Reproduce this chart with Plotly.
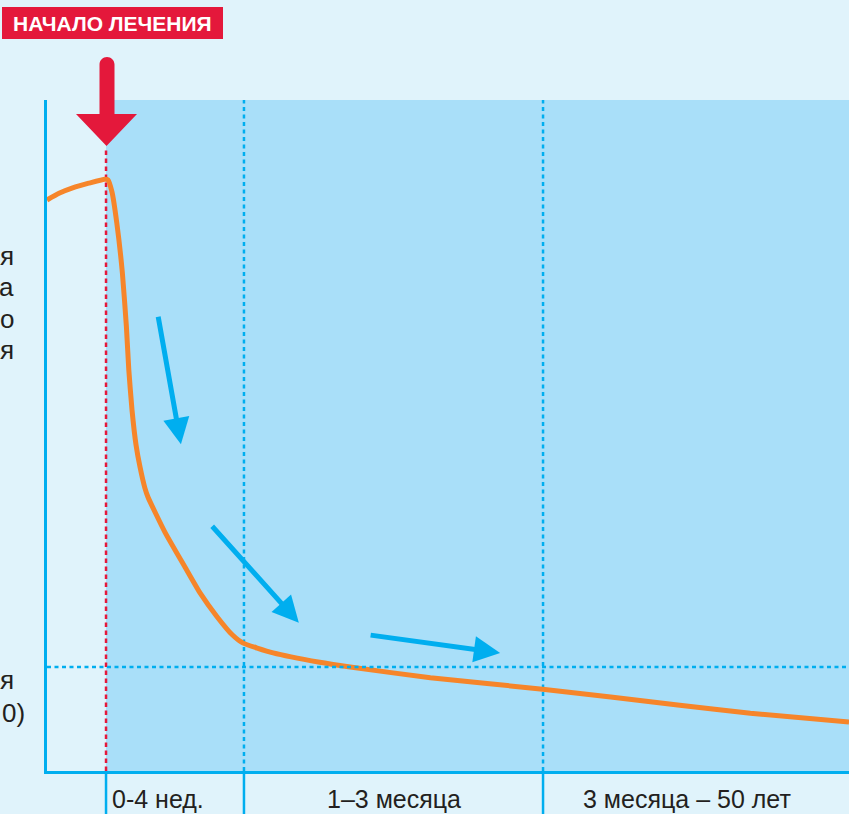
import plotly.graph_objects as go

# ---------------- data (arbitrary units: x = time 0..100, y = viral load 0..100)
curve_x = [0.0, 1.5, 3.2, 5.2, 7.2, 7.6, 8.1, 8.7, 9.4, 9.9, 10.2, 10.6, 11.1, 11.6, 12.2, 12.6,
           14.7, 17.2, 19.1, 21.2, 23.1, 24.4, 28.2, 34.0, 37.8, 47.8, 61.8, 78.9, 87.7, 100.0]
curve_y = [85.1, 86.1, 86.9, 87.6, 88.2, 88.1, 86.3, 81.7, 74.2, 66.2, 59.8, 53.8, 48.6, 45.3, 42.2, 40.8,
           35.6, 30.4, 26.5, 23.0, 20.3, 19.1, 17.6, 16.2, 15.5, 13.9, 12.2, 9.8, 8.6, 7.3]

treatment_start = 7.36
period_bounds = [7.36, 24.56, 61.85, 100.0]
period_labels = ["0-4 нед.", "1–3 месяца", "3 месяца – 50 лет"]
threshold_y = 15.5

# the reference only shows the last characters of the left-hand captions
left_labels_top = ["я", "а", "о", "я"]
left_labels_bottom = ["я", "0)"]
start_label = "НАЧАЛО ЛЕЧЕНИЯ"

# blue trend arrows: (tip_x, tip_y, tail offset px dx, dy)
trend_arrows = [(16.7, 48.7, -23, -129), (31.4, 22.1, -88, -98), (56.5, 17.6, -131, -18)]

# ---------------- style
BG = "#e0f3fb"
BLUE_FILL = "#a9dff9"
BLUE = "#00aeef"
ORANGE = "#f6852a"
RED = "#e4183b"
TEXT = "#231f20"
FONT = "Liberation Sans, Arial, sans-serif"

W, H = 849, 814
ML, MR, MT, MB = 47, 0, 100, 43
PW, PH = W - ML - MR, H - MT - MB


def pxx(x):
    return (x - ML) / PW


def pxy(y):
    return (H - MB - y) / PH


fig = go.Figure()
fig.add_trace(go.Scatter(x=curve_x, y=curve_y, mode="lines",
                         line=dict(color=ORANGE, width=5, shape="spline", smoothing=0.5),
                         hoverinfo="skip"))

shapes = []
# blue treatment region
shapes.append(dict(type="rect", xref="x", yref="y", x0=treatment_start, x1=100, y0=0, y1=100,
                   fillcolor=BLUE_FILL, line=dict(width=0), layer="below"))
# red dashed start line
shapes.append(dict(type="line", xref="x", yref="y", x0=treatment_start, x1=treatment_start,
                   y0=0, y1=92.5, line=dict(color=RED, width=2.5, dash="4.5px,3.5px"), layer="below"))
# blue dotted period dividers
for b in period_bounds[1:-1]:
    shapes.append(dict(type="line", xref="x", yref="y", x0=b, x1=b, y0=0, y1=100,
                       line=dict(color=BLUE, width=2.5, dash="4px,3.5px"), layer="below"))
# horizontal threshold line
shapes.append(dict(type="line", xref="x", yref="y", x0=0, x1=100, y0=threshold_y, y1=threshold_y,
                   line=dict(color=BLUE, width=2.5, dash="4px,3.5px"), layer="above"))
# solid dividers below axis
for b in period_bounds[:-1]:
    shapes.append(dict(type="line", xref="x", yref="paper", x0=b, x1=b, y0=0, y1=-MB / PH,
                       line=dict(color=BLUE, width=2.5)))

# big red arrow (paper coords from pixels)
path = (f"M {pxx(99.5)},{pxy(114)} L {pxx(99.5)},{pxy(64.5)} "
        f"C {pxx(99.5)},{pxy(60.4)} {pxx(102.9)},{pxy(57)} {pxx(107)},{pxy(57)} "
        f"C {pxx(111.1)},{pxy(57)} {pxx(114.5)},{pxy(60.4)} {pxx(114.5)},{pxy(64.5)} "
        f"L {pxx(114.5)},{pxy(114)} L {pxx(137)},{pxy(114)} L {pxx(106.5)},{pxy(146)} "
        f"L {pxx(76)},{pxy(114)} Z")
shapes.append(dict(type="path", xref="paper", yref="paper", path=path,
                   fillcolor=RED, line=dict(width=0)))
# label box
shapes.append(dict(type="rect", xref="paper", yref="paper", x0=pxx(2), x1=pxx(223),
                   y0=pxy(39), y1=pxy(7), fillcolor=RED, line=dict(width=0)))

annotations = []
annotations.append(dict(text=f"<b>{start_label}</b>", xref="paper", yref="paper",
                        x=pxx(112.5), y=pxy(23.5), showarrow=False, xanchor="center",
                        yanchor="middle", font=dict(family=FONT, size=21, color="white")))

for i, t in enumerate(left_labels_top):
    annotations.append(dict(text=t, xref="paper", yref="paper", x=pxx(15),
                            y=pxy(255.5 + i * 31.5), showarrow=False, xanchor="right",
                            yanchor="middle", align="right", borderpad=0,
                            font=dict(family=FONT, size=26, color=TEXT)))
annotations.append(dict(text=left_labels_bottom[0], xref="paper", yref="paper", x=pxx(15),
                        y=pxy(680), showarrow=False, xanchor="right",
                        yanchor="middle", align="right", borderpad=0,
                        font=dict(family=FONT, size=26, color=TEXT)))
annotations.append(dict(text=left_labels_bottom[1], xref="paper", yref="paper", x=pxx(1),
                        y=pxy(712.5), showarrow=False, xanchor="left",
                        yanchor="middle", align="left", borderpad=0,
                        font=dict(family=FONT, size=26, color=TEXT)))

# period labels
label_y = -MB / PH
annotations.append(dict(text=period_labels[0], xref="x", yref="paper", x=period_bounds[0] + 0.6,
                        y=label_y, showarrow=False, xanchor="left", yanchor="bottom", borderpad=0,
                        font=dict(family=FONT, size=25, color=TEXT)))
annotations.append(dict(text=period_labels[1], xref="x", yref="paper",
                        x=(period_bounds[1] + period_bounds[2]) / 2,
                        y=label_y, showarrow=False, xanchor="center", yanchor="bottom", borderpad=0,
                        font=dict(family=FONT, size=25, color=TEXT)))
annotations.append(dict(text=period_labels[2], xref="x", yref="paper",
                        x=(period_bounds[2] + period_bounds[3]) / 2 - 1.1,
                        y=label_y, showarrow=False, xanchor="center", yanchor="bottom", borderpad=0,
                        font=dict(family=FONT, size=25, color=TEXT)))

for (tx, ty, dx, dy) in trend_arrows:
    annotations.append(dict(text="", x=tx, y=ty, xref="x", yref="y", ax=dx, ay=dy,
                            showarrow=True, arrowhead=2, arrowsize=1.05, arrowwidth=5,
                            arrowcolor=BLUE, standoff=0, startstandoff=0))

fig.update_layout(
    width=W, height=H,
    margin=dict(l=ML, r=MR, t=MT, b=MB, pad=0),
    paper_bgcolor=BG, plot_bgcolor=BG,
    showlegend=False,
    shapes=shapes, annotations=annotations,
    xaxis=dict(range=[0, 100], showgrid=False, zeroline=False, showticklabels=False,
               ticks="", showline=True, linecolor=BLUE, linewidth=3, fixedrange=True),
    yaxis=dict(range=[0, 100], showgrid=False, zeroline=False, showticklabels=False,
               ticks="", showline=True, linecolor=BLUE, linewidth=3, fixedrange=True),
)

fig.write_html("out.html", config={"displayModeBar": False},
               post_script="document.body.style.margin='0';document.body.style.overflow='hidden';")
